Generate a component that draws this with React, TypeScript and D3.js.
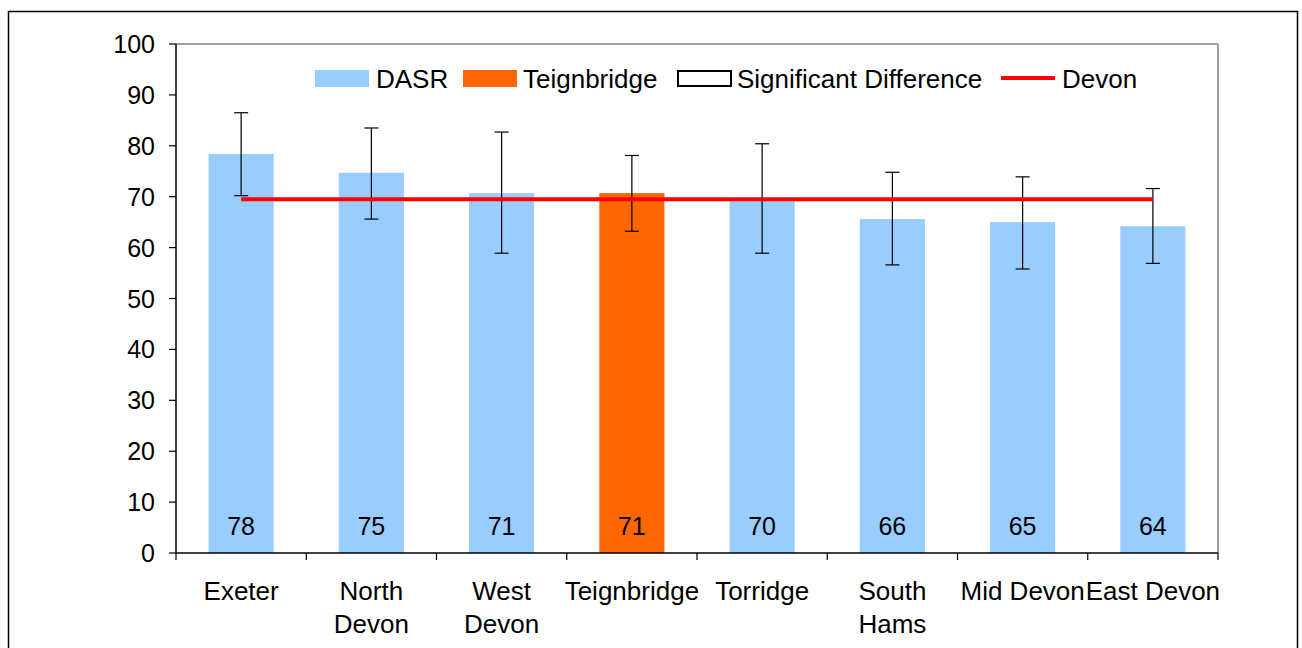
import React from "react";
import * as d3 from "d3";

const categories = ["Exeter", "North Devon", "West Devon", "Teignbridge", "Torridge", "South Hams", "Mid Devon", "East Devon"];
const labelLines = [["Exeter"], ["North", "Devon"], ["West", "Devon"], ["Teignbridge"], ["Torridge"], ["South", "Hams"], ["Mid Devon"], ["East Devon"]];
const dasr = [78.4, 74.7, 70.7, 70.7, 69.8, 65.6, 65.0, 64.2];
const valueLabels = [78, 75, 71, 71, 70, 66, 65, 64];
const upper = [86.5, 83.5, 82.7, 78.1, 80.4, 74.8, 73.9, 71.6];
const lower = [70.2, 65.6, 58.9, 63.2, 58.9, 56.6, 55.8, 56.9];
const devon = 69.5;
const highlight = "Teignbridge";
const yTicks = [0, 10, 20, 30, 40, 50, 60, 70, 80, 90, 100];

const W = 1302, H = 648;
const L = 176, R = 1218, T = 44, B = 553;
const FONT = "'Liberation Sans', Arial, sans-serif";
const FS = 25;
const FS2 = 26;

export default function App() {
  const x = d3.scaleBand<string>().domain(categories).range([L, R]).paddingInner(0.5).paddingOuter(0.25);
  const band = d3.scaleBand<string>().domain(categories).range([L, R]);
  const y = d3.scaleLinear().domain([0, 100]).range([B, T]);
  const cx = (c: string) => (x(c) as number) + x.bandwidth() / 2;

  const devonLine = d3.line<string>().x((c) => cx(c)).y(() => y(devon));

  return (
    <svg width={W} height={H} style={{ position: "fixed", left: 0, top: 0, background: "#fff" }} fontFamily={FONT}>
      <rect x={0} y={0} width={W} height={H} fill="#fff" />
      <rect x={8.5} y={11.5} width={1289} height={660} fill="none" stroke="#000" strokeWidth={1.5} />
      {/* plot frame */}
      <line x1={L} x2={R} y1={T} y2={T} stroke="#808080" strokeWidth={1.5} />
      <line x1={R} x2={R} y1={T} y2={B} stroke="#808080" strokeWidth={1.5} />

      {categories.map((c, i) => (
        <rect key={c} x={x(c)} y={y(dasr[i])} width={x.bandwidth()} height={B - y(dasr[i])}
          fill={c === highlight ? "#ff6600" : "#99ccff"} />
      ))}

      {/* error bars */}
      {categories.map((c, i) => (
        <g key={"e" + c} stroke="#000" strokeWidth={1.2}>
          <line x1={cx(c)} x2={cx(c)} y1={y(upper[i])} y2={y(lower[i])} />
          <line x1={cx(c) - 7} x2={cx(c) + 7} y1={y(upper[i])} y2={y(upper[i])} />
          <line x1={cx(c) - 7} x2={cx(c) + 7} y1={y(lower[i])} y2={y(lower[i])} />
        </g>
      ))}

      <path d={devonLine(categories) as string} stroke="#ff0000" strokeWidth={4} fill="none" />

      {/* value labels */}
      {categories.map((c, i) => (
        <text key={"v" + c} x={cx(c)} y={y(0) - 27} textAnchor="middle" dominantBaseline="central" fontSize={FS} fill="#000">
          {valueLabels[i]}
        </text>
      ))}

      {/* y axis */}
      <line x1={L} x2={L} y1={T} y2={B} stroke="#000" strokeWidth={1.5} />
      {yTicks.map((t) => (
        <g key={"y" + t}>
          <line x1={L - 7} x2={L} y1={y(t)} y2={y(t)} stroke="#000" strokeWidth={1.2} />
          <text x={L - 21} y={y(t)} textAnchor="end" dominantBaseline="central" fontSize={FS} fill="#000">{t}</text>
        </g>
      ))}

      {/* x axis */}
      <line x1={L} x2={R} y1={B} y2={B} stroke="#000" strokeWidth={1.5} />
      {categories.map((c) => (
        <line key={"xt" + c} x1={band(c)} x2={band(c)} y1={B} y2={B + 7} stroke="#000" strokeWidth={1.2} />
      ))}
      <line x1={R} x2={R} y1={B} y2={B + 7} stroke="#000" strokeWidth={1.2} />
      {categories.map((c, i) => (
        <text key={"xl" + c} x={cx(c)} y={591} textAnchor="middle" fontSize={FS2} fill="#000">
          {labelLines[i].map((ln, j) => (
            <tspan key={j} x={cx(c)} y={591 + j * 33} dominantBaseline="central">{ln}</tspan>
          ))}
        </text>
      ))}

      {/* legend */}
      <g fontSize={FS2} fill="#000">
        <rect x={315} y={70} width={54} height={17} fill="#99ccff" />
        <text x={376} y={79} dominantBaseline="central">DASR</text>
        <rect x={463} y={70} width={54} height={17} fill="#ff6600" />
        <text x={523} y={79} dominantBaseline="central">Teignbridge</text>
        <rect x={678} y={71} width={53} height={15} fill="#fff" stroke="#000" strokeWidth={2} />
        <text x={737} y={79} dominantBaseline="central">Significant Difference</text>
        <line x1={1001} x2={1055} y1={78} y2={78} stroke="#ff0000" strokeWidth={4} />
        <text x={1062} y={79} dominantBaseline="central">Devon</text>
      </g>
    </svg>
  );
}
